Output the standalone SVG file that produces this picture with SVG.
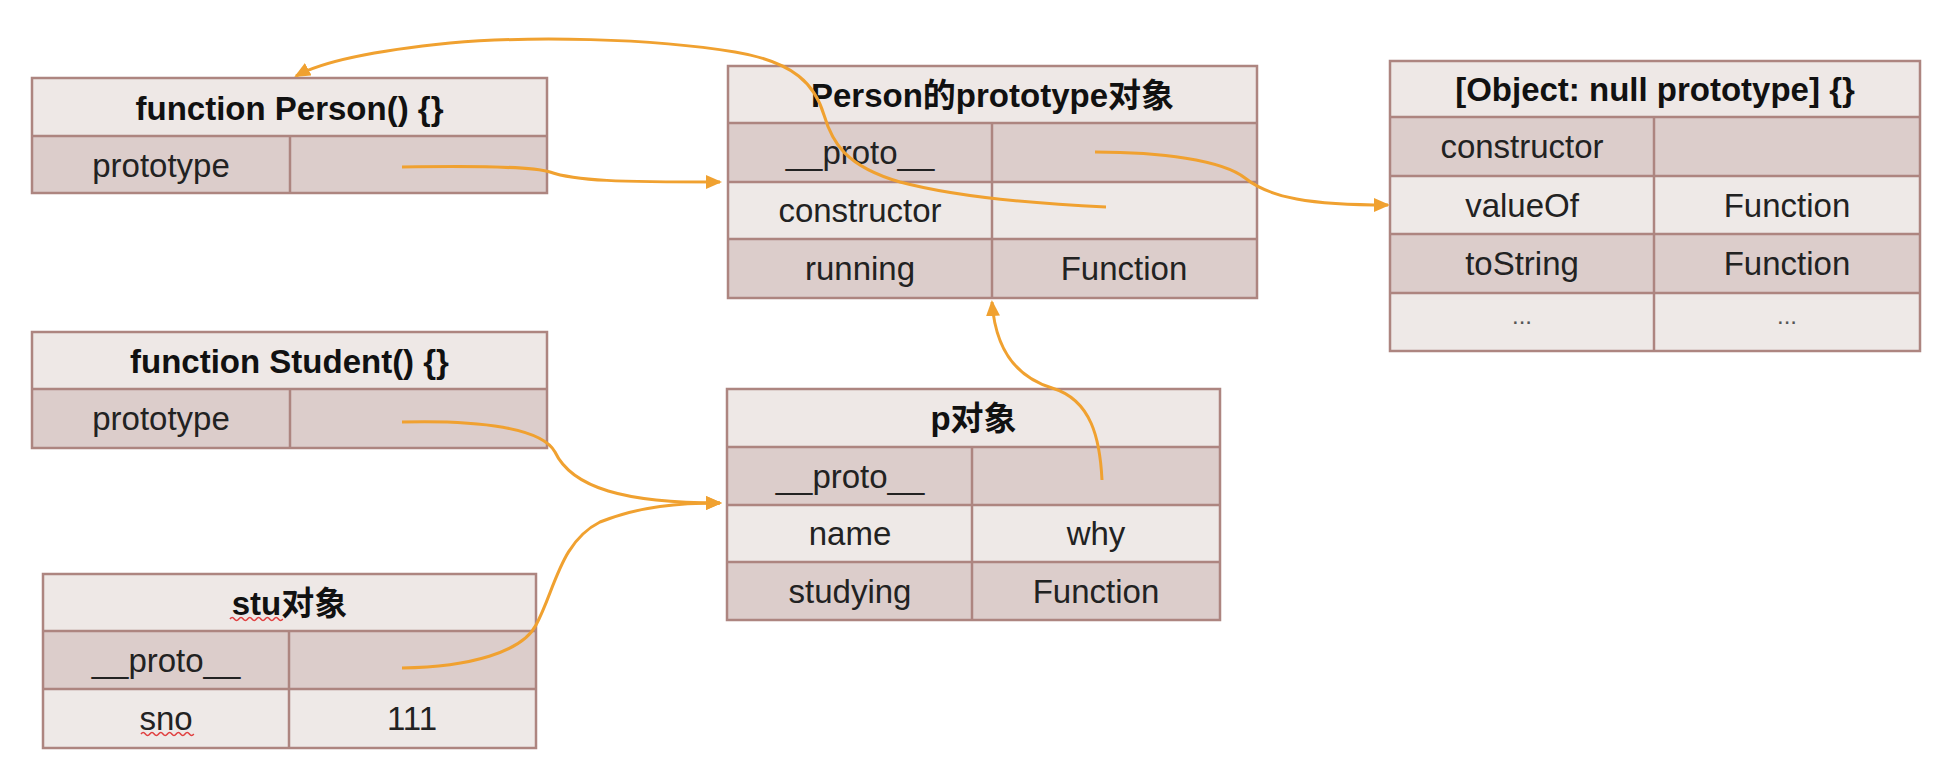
<svg xmlns="http://www.w3.org/2000/svg" width="1942" height="774" viewBox="0 0 1942 774">
<style>
  .hd { fill: #EEE8E6; }
  .dk { fill: #DCCDCB; }
  .lt { fill: #EEE9E7; }
  .bd { fill: none; stroke: #AD8580; stroke-width: 2.5; }
  .ln { stroke: #AD8580; stroke-width: 2.5; }
  .ht { font-family: "Liberation Sans", "Noto Sans CJK SC", sans-serif; font-weight: bold; font-size: 33px; fill: #111; text-anchor: middle; }
  .ct { font-family: "Liberation Sans", "Noto Sans CJK SC", sans-serif; font-size: 33px; fill: #222; text-anchor: middle; }
  .dots { font-family: "Liberation Sans", sans-serif; font-size: 24px; fill: #555; text-anchor: middle; }
  .cn { fill: none; stroke: #F0A130; stroke-width: 3; marker-end: url(#ah); }
  .sq { fill: none; stroke: #E04040; stroke-width: 1.5; }
</style>
<defs>
  <marker id="ah" markerUnits="userSpaceOnUse" markerWidth="16" markerHeight="14" refX="14" refY="7" orient="auto">
    <path d="M0,0 L16,7 L0,14 Z" fill="#F0A130"/>
  </marker>
</defs>
<rect x="0" y="0" width="1942" height="774" fill="#FFFFFF"/>

<g id="person-fn">
  <rect class="hd" x="32" y="78" width="515" height="58"/>
  <rect class="dk" x="32" y="136" width="515" height="57"/>
  <rect class="bd" x="32" y="78" width="515" height="115"/>
  <line class="ln" x1="32" y1="136" x2="547" y2="136"/>
  <line class="ln" x1="290" y1="136" x2="290" y2="193"/>
  <text class="ht" x="289.5" y="120">function Person() {}</text>
  <text class="ct" x="161" y="177">prototype</text>
</g>

<g id="person-proto">
  <rect class="hd" x="728" y="66" width="529" height="57"/>
  <rect class="dk" x="728" y="123" width="529" height="59"/>
  <rect class="lt" x="728" y="182" width="529" height="57"/>
  <rect class="dk" x="728" y="239" width="529" height="59"/>
  <rect class="bd" x="728" y="66" width="529" height="232"/>
  <line class="ln" x1="728" y1="123" x2="1257" y2="123"/>
  <line class="ln" x1="728" y1="182" x2="1257" y2="182"/>
  <line class="ln" x1="728" y1="239" x2="1257" y2="239"/>
  <line class="ln" x1="992" y1="123" x2="992" y2="298"/>
  <text class="ht" x="992.5" y="107">Person的prototype对象</text>
  <text class="ct" x="860" y="164">__proto__</text>
  <text class="ct" x="860" y="222">constructor</text>
  <text class="ct" x="860" y="280">running</text>
  <text class="ct" x="1124" y="280">Function</text>
</g>

<g id="object-null">
  <rect class="hd" x="1390" y="61" width="530" height="56"/>
  <rect class="dk" x="1390" y="117" width="530" height="59"/>
  <rect class="lt" x="1390" y="176" width="530" height="58"/>
  <rect class="dk" x="1390" y="234" width="530" height="59"/>
  <rect class="lt" x="1390" y="293" width="530" height="58"/>
  <rect class="bd" x="1390" y="61" width="530" height="290"/>
  <line class="ln" x1="1390" y1="117" x2="1920" y2="117"/>
  <line class="ln" x1="1390" y1="176" x2="1920" y2="176"/>
  <line class="ln" x1="1390" y1="234" x2="1920" y2="234"/>
  <line class="ln" x1="1390" y1="293" x2="1920" y2="293"/>
  <line class="ln" x1="1654" y1="117" x2="1654" y2="351"/>
  <text class="ht" x="1655" y="101">[Object: null prototype] {}</text>
  <text class="ct" x="1522" y="158">constructor</text>
  <text class="ct" x="1522" y="217">valueOf</text>
  <text class="ct" x="1787" y="217">Function</text>
  <text class="ct" x="1522" y="275">toString</text>
  <text class="ct" x="1787" y="275">Function</text>
  <text class="dots" x="1522" y="324">...</text>
  <text class="dots" x="1787" y="324">...</text>
</g>

<g id="student-fn">
  <rect class="hd" x="32" y="332" width="515" height="57"/>
  <rect class="dk" x="32" y="389" width="515" height="59"/>
  <rect class="bd" x="32" y="332" width="515" height="116"/>
  <line class="ln" x1="32" y1="389" x2="547" y2="389"/>
  <line class="ln" x1="290" y1="389" x2="290" y2="448"/>
  <text class="ht" x="289.5" y="373">function Student() {}</text>
  <text class="ct" x="161" y="430">prototype</text>
</g>

<g id="p-obj">
  <rect class="hd" x="727" y="389" width="493" height="58"/>
  <rect class="dk" x="727" y="447" width="493" height="58"/>
  <rect class="lt" x="727" y="505" width="493" height="57"/>
  <rect class="dk" x="727" y="562" width="493" height="58"/>
  <rect class="bd" x="727" y="389" width="493" height="231"/>
  <line class="ln" x1="727" y1="447" x2="1220" y2="447"/>
  <line class="ln" x1="727" y1="505" x2="1220" y2="505"/>
  <line class="ln" x1="727" y1="562" x2="1220" y2="562"/>
  <line class="ln" x1="972" y1="447" x2="972" y2="620"/>
  <text class="ht" x="973.5" y="430">p对象</text>
  <text class="ct" x="850" y="488">__proto__</text>
  <text class="ct" x="850" y="545">name</text>
  <text class="ct" x="1096" y="545">why</text>
  <text class="ct" x="850" y="603">studying</text>
  <text class="ct" x="1096" y="603">Function</text>
</g>

<g id="stu-obj">
  <rect class="hd" x="43" y="574" width="493" height="57"/>
  <rect class="dk" x="43" y="631" width="493" height="58"/>
  <rect class="lt" x="43" y="689" width="493" height="59"/>
  <rect class="bd" x="43" y="574" width="493" height="174"/>
  <line class="ln" x1="43" y1="631" x2="536" y2="631"/>
  <line class="ln" x1="43" y1="689" x2="536" y2="689"/>
  <line class="ln" x1="289" y1="631" x2="289" y2="748"/>
  <text class="ht" x="289.5" y="615">stu对象</text>
  <text class="ct" x="166" y="672">__proto__</text>
  <text class="ct" x="166" y="730">sno</text>
  <text class="ct" x="412" y="730">111</text>
  <path class="sq" d="M230,619 q2.2,-3 4.4,0 t4.4,0 t4.4,0 t4.4,0 t4.4,0 t4.4,0 t4.4,0 t4.4,0 t4.4,0 t4.4,0 t4.4,0 t4.4,0"/>
  <path class="sq" d="M141,734 q2.2,-3 4.4,0 t4.4,0 t4.4,0 t4.4,0 t4.4,0 t4.4,0 t4.4,0 t4.4,0 t4.4,0 t4.4,0 t4.4,0 t4.4,0"/>
</g>

<g id="connectors">
  <path class="cn" d="M402,167 C470,166 530,166 550,172 C575,181 620,182 720,182"/>
  <path class="cn" d="M1106,207 C1040,204 960,198 900,182 C845,166 832,142 824,115 C815,85 795,62 735,52 C650,38 530,36 450,43 C380,50 325,60 296,76"/>
  <path class="cn" d="M1095,152 C1160,152 1222,160 1245,178 C1270,198 1310,205 1388,205"/>
  <path class="cn" d="M402,422 C480,420 542,428 555,452 C572,488 625,503 720,503"/>
  <path class="cn" d="M402,668 C470,667 522,652 536,625 C555,590 560,542 600,522 C640,506 680,503 720,503"/>
  <path class="cn" d="M1102,480 C1100,440 1092,400 1052,388 C1012,376 995,345 992,302"/>
</g>
</svg>
